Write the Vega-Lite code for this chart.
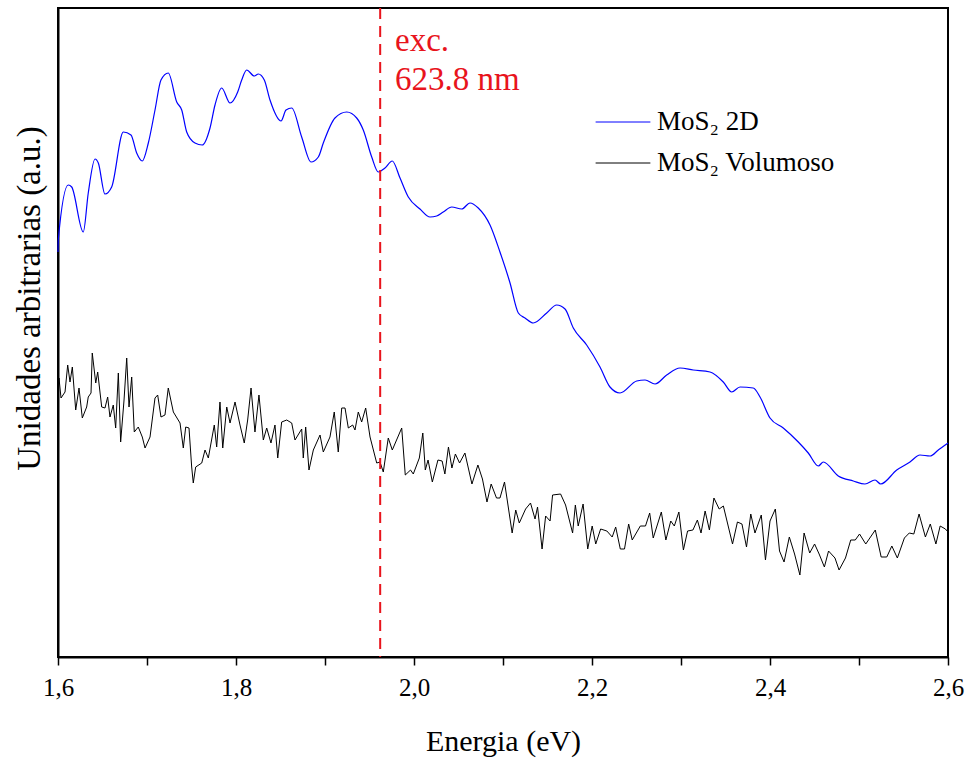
{
  "$schema": "https://vega.github.io/schema/vega-lite/v6.json",
  "width": 890,
  "height": 649,
  "autosize": "none",
  "padding": {"left": 58, "top": 8, "right": 23, "bottom": 110},
  "background": "white",
  "config": {
    "view": {"stroke": "black", "strokeWidth": 2},
    "font": "Liberation Serif"
  },
  "encoding": {
    "x": {
      "field": "e", "type": "quantitative",
      "scale": {"domain": [1.6, 2.6], "nice": false, "zero": false},
      "axis": {
        "title": "Energia (eV)",
        "values": [1.6, 1.7, 1.8, 1.9, 2.0, 2.1, 2.2, 2.3, 2.4, 2.5, 2.6],
        "labelExpr": "round(datum.value*10) % 2 == 0 ? replace(format(datum.value, '.1f'), '.', ',') : ''",
        "grid": false, "domainColor": "black", "domainWidth": 2,
        "tickColor": "black", "tickWidth": 1.5, "tickSize": 8,
        "labelFont": "Liberation Serif", "labelFontSize": 25, "labelColor": "black", "labelPadding": 10,
        "labelFlush": false, "labelOverlap": false,
        "titleFont": "Liberation Serif", "titleFontSize": 30, "titleFontWeight": "normal", "titleColor": "black", "titlePadding": 26
      }
    },
    "y": {
      "field": "v", "type": "quantitative",
      "scale": {"domain": [0, 649], "nice": false, "zero": false},
      "axis": {
        "title": "Unidades arbitrarias (a.u.)",
        "ticks": false, "labels": false, "grid": false,
        "domainColor": "black", "domainWidth": 2,
        "titleFont": "Liberation Serif", "titleFontSize": 33, "titleFontWeight": "normal", "titleColor": "black",
        "titleX": -12, "titleY": 290, "titleBaseline": "bottom"
      }
    }
  },
  "layer": [
    {
      "data": {"values": [
        {"e":1.6,"v":405},{"e":1.6003,"v":417},{"e":1.6116,"v":472},{"e":1.6154,"v":470},{"e":1.6284,"v":425},{"e":1.634,"v":464},{"e":1.6416,"v":498},{"e":1.6453,"v":494},{"e":1.6528,"v":463},{"e":1.6603,"v":470},{"e":1.6734,"v":525},{"e":1.682,"v":522},{"e":1.6884,"v":504},{"e":1.6947,"v":496},{"e":1.7015,"v":514},{"e":1.709,"v":547},{"e":1.7157,"v":577},{"e":1.7239,"v":584},{"e":1.7334,"v":555},{"e":1.739,"v":547},{"e":1.7446,"v":525},{"e":1.7539,"v":514},{"e":1.7621,"v":512},{"e":1.7708,"v":529},{"e":1.7764,"v":552},{"e":1.7839,"v":569},{"e":1.7933,"v":554},{"e":1.8019,"v":565},{"e":1.8064,"v":577},{"e":1.812,"v":587},{"e":1.8206,"v":581},{"e":1.8251,"v":583},{"e":1.8318,"v":577},{"e":1.8382,"v":557},{"e":1.8506,"v":536},{"e":1.8562,"v":547},{"e":1.8626,"v":549},{"e":1.8738,"v":520},{"e":1.8843,"v":495},{"e":1.8925,"v":500},{"e":1.8981,"v":514},{"e":1.9112,"v":539},{"e":1.9244,"v":545},{"e":1.9356,"v":539},{"e":1.943,"v":527},{"e":1.9525,"v":500},{"e":1.9599,"v":485},{"e":1.9674,"v":489},{"e":1.9756,"v":496},{"e":1.9843,"v":479},{"e":1.9936,"v":460},{"e":2.0067,"v":448},{"e":2.018,"v":440},{"e":2.0255,"v":441},{"e":2.0329,"v":445},{"e":2.0424,"v":450},{"e":2.0536,"v":448},{"e":2.0629,"v":454},{"e":2.0722,"v":449},{"e":2.0854,"v":432},{"e":2.0966,"v":405},{"e":2.1079,"v":374},{"e":2.1172,"v":344},{"e":2.1247,"v":339},{"e":2.134,"v":334},{"e":2.1491,"v":344},{"e":2.1603,"v":352},{"e":2.1697,"v":348},{"e":2.179,"v":329},{"e":2.194,"v":312},{"e":2.209,"v":290},{"e":2.2202,"v":270},{"e":2.2315,"v":264},{"e":2.2502,"v":276},{"e":2.2596,"v":277},{"e":2.2708,"v":273},{"e":2.2839,"v":282},{"e":2.2989,"v":289},{"e":2.3138,"v":287},{"e":2.3326,"v":285},{"e":2.3475,"v":275},{"e":2.357,"v":265},{"e":2.3663,"v":270},{"e":2.3812,"v":269},{"e":2.3888,"v":260},{"e":2.4,"v":239},{"e":2.4149,"v":229},{"e":2.4318,"v":215},{"e":2.443,"v":204},{"e":2.4543,"v":191},{"e":2.4599,"v":195},{"e":2.4767,"v":181},{"e":2.4936,"v":176},{"e":2.5067,"v":173},{"e":2.518,"v":177},{"e":2.5244,"v":173},{"e":2.5424,"v":187},{"e":2.5573,"v":195},{"e":2.5685,"v":202},{"e":2.5798,"v":201},{"e":2.5891,"v":207},{"e":2.5985,"v":213},{"e":2.6,"v":214}
      ]},
      "mark": {"type": "line", "strokeWidth": 1.2, "interpolate": "monotone"},
      "encoding": {
        "color": {
          "datum": "MoS₂ 2D",
          "scale": {"domain": ["MoS₂ 2D", "MoS₂ Volumoso"], "range": ["#0000ff", "#000000"]},
          "legend": {
            "title": null, "orient": "none", "legendX": 537, "legendY": 86,
            "symbolType": "stroke", "symbolSize": 3000, "symbolStrokeWidth": 1,
            "labelFont": "Liberation Serif", "labelFontSize": 27, "labelColor": "black", "labelLimit": 400,
            "rowPadding": -3, "labelOffset": 6
          }
        }
      }
    },
    {
      "data": {"values": [
        {"e":1.6,"v":262},{"e":1.6011,"v":279},{"e":1.6034,"v":259},{"e":1.6079,"v":265},{"e":1.6109,"v":292},{"e":1.6135,"v":275},{"e":1.6161,"v":290},{"e":1.6199,"v":247},{"e":1.6236,"v":269},{"e":1.6273,"v":239},{"e":1.6322,"v":250},{"e":1.634,"v":260},{"e":1.6371,"v":264},{"e":1.6385,"v":304},{"e":1.6424,"v":274},{"e":1.6446,"v":285},{"e":1.6491,"v":250},{"e":1.6528,"v":249},{"e":1.6558,"v":260},{"e":1.6584,"v":240},{"e":1.6621,"v":252},{"e":1.6648,"v":229},{"e":1.6678,"v":284},{"e":1.6704,"v":215},{"e":1.6742,"v":257},{"e":1.6772,"v":299},{"e":1.6798,"v":250},{"e":1.6828,"v":280},{"e":1.6857,"v":225},{"e":1.6902,"v":230},{"e":1.6947,"v":220},{"e":1.6978,"v":209},{"e":1.7034,"v":220},{"e":1.709,"v":259},{"e":1.712,"v":262},{"e":1.7157,"v":240},{"e":1.7202,"v":242},{"e":1.7239,"v":269},{"e":1.7296,"v":245},{"e":1.7371,"v":234},{"e":1.7408,"v":209},{"e":1.7435,"v":230},{"e":1.7472,"v":229},{"e":1.7502,"v":190},{"e":1.752,"v":174},{"e":1.7547,"v":190},{"e":1.7615,"v":194},{"e":1.7652,"v":207},{"e":1.7689,"v":199},{"e":1.7756,"v":232},{"e":1.7783,"v":210},{"e":1.782,"v":255},{"e":1.7851,"v":209},{"e":1.7896,"v":250},{"e":1.7933,"v":234},{"e":1.7989,"v":255},{"e":1.8045,"v":232},{"e":1.8093,"v":214},{"e":1.8131,"v":237},{"e":1.8169,"v":269},{"e":1.8213,"v":225},{"e":1.8258,"v":262},{"e":1.8307,"v":217},{"e":1.8345,"v":229},{"e":1.8393,"v":214},{"e":1.8438,"v":232},{"e":1.8469,"v":199},{"e":1.8513,"v":235},{"e":1.857,"v":237},{"e":1.8626,"v":234},{"e":1.8663,"v":217},{"e":1.8738,"v":228},{"e":1.8756,"v":199},{"e":1.8783,"v":230},{"e":1.882,"v":187},{"e":1.8869,"v":207},{"e":1.8944,"v":222},{"e":1.8981,"v":205},{"e":1.9056,"v":220},{"e":1.9104,"v":245},{"e":1.9149,"v":205},{"e":1.9188,"v":249},{"e":1.9225,"v":249},{"e":1.9262,"v":229},{"e":1.9311,"v":232},{"e":1.9337,"v":227},{"e":1.9374,"v":245},{"e":1.9412,"v":235},{"e":1.9457,"v":249},{"e":1.9506,"v":220},{"e":1.9581,"v":194},{"e":1.9618,"v":195},{"e":1.9655,"v":185},{"e":1.9711,"v":219},{"e":1.9756,"v":207},{"e":1.9862,"v":229},{"e":1.9902,"v":182},{"e":1.9961,"v":187},{"e":1.9992,"v":183},{"e":2.006,"v":199},{"e":2.0099,"v":224},{"e":2.0127,"v":187},{"e":2.0158,"v":197},{"e":2.0206,"v":175},{"e":2.0269,"v":197},{"e":2.0316,"v":196},{"e":2.0347,"v":183},{"e":2.0387,"v":210},{"e":2.0426,"v":189},{"e":2.0465,"v":203},{"e":2.0512,"v":194},{"e":2.0572,"v":204},{"e":2.0651,"v":173},{"e":2.0718,"v":192},{"e":2.0769,"v":178},{"e":2.082,"v":155},{"e":2.0867,"v":173},{"e":2.0927,"v":159},{"e":2.0966,"v":159},{"e":2.1017,"v":175},{"e":2.1103,"v":124},{"e":2.1143,"v":147},{"e":2.1183,"v":134},{"e":2.1254,"v":148},{"e":2.1309,"v":154},{"e":2.136,"v":138},{"e":2.1388,"v":150},{"e":2.1439,"v":108},{"e":2.1479,"v":141},{"e":2.1529,"v":136},{"e":2.1557,"v":162},{"e":2.1647,"v":163},{"e":2.1703,"v":152},{"e":2.1782,"v":124},{"e":2.1813,"v":152},{"e":2.1845,"v":131},{"e":2.19,"v":153},{"e":2.1952,"v":108},{"e":2.2002,"v":131},{"e":2.2042,"v":113},{"e":2.2097,"v":128},{"e":2.2167,"v":126},{"e":2.2227,"v":120},{"e":2.2266,"v":130},{"e":2.2318,"v":108},{"e":2.2365,"v":108},{"e":2.2412,"v":133},{"e":2.2452,"v":117},{"e":2.2543,"v":131},{"e":2.2601,"v":131},{"e":2.2648,"v":144},{"e":2.2688,"v":119},{"e":2.2779,"v":145},{"e":2.283,"v":117},{"e":2.2885,"v":136},{"e":2.2925,"v":131},{"e":2.2976,"v":145},{"e":2.3027,"v":107},{"e":2.3074,"v":126},{"e":2.3134,"v":127},{"e":2.3184,"v":137},{"e":2.3225,"v":124},{"e":2.3271,"v":146},{"e":2.3319,"v":127},{"e":2.337,"v":159},{"e":2.3429,"v":148},{"e":2.3476,"v":151},{"e":2.3579,"v":113},{"e":2.3634,"v":135},{"e":2.3685,"v":133},{"e":2.3736,"v":110},{"e":2.3784,"v":143},{"e":2.3831,"v":124},{"e":2.3902,"v":142},{"e":2.3949,"v":97},{"e":2.4,"v":136},{"e":2.406,"v":148},{"e":2.4107,"v":106},{"e":2.4158,"v":95},{"e":2.4217,"v":120},{"e":2.4276,"v":103},{"e":2.4336,"v":82},{"e":2.4383,"v":124},{"e":2.4446,"v":104},{"e":2.4501,"v":113},{"e":2.4552,"v":103},{"e":2.4611,"v":90},{"e":2.4658,"v":106},{"e":2.473,"v":99},{"e":2.4776,"v":87},{"e":2.4848,"v":99},{"e":2.4907,"v":117},{"e":2.4958,"v":117},{"e":2.5006,"v":123},{"e":2.5076,"v":113},{"e":2.5183,"v":127},{"e":2.5249,"v":100},{"e":2.5312,"v":100},{"e":2.5369,"v":111},{"e":2.5431,"v":99},{"e":2.551,"v":119},{"e":2.5565,"v":124},{"e":2.5616,"v":123},{"e":2.5675,"v":143},{"e":2.5746,"v":120},{"e":2.5801,"v":133},{"e":2.5864,"v":113},{"e":2.5912,"v":131},{"e":2.5971,"v":128},{"e":2.6,"v":125}
      ]},
      "mark": {"type": "line", "strokeWidth": 1},
      "encoding": {
        "color": {"datum": "MoS₂ Volumoso"}
      }
    },
    {
      "data": {"values": [{"e": 1.962}]},
      "mark": {"type": "rule", "color": "#e8141c", "strokeWidth": 2, "strokeDash": [11, 7]},
      "encoding": {"x": {"field": "e", "type": "quantitative"}, "y": null}
    },
    {
      "data": {"values": [{"e": 1.9787, "v": 606, "t": "exc."}, {"e": 1.9787, "v": 567, "t": "623.8 nm"}]},
      "mark": {"type": "text", "align": "left", "baseline": "alphabetic", "font": "Liberation Serif", "fontSize": 33, "color": "#e8141c"},
      "encoding": {"text": {"field": "t"}}
    }
  ]
}
